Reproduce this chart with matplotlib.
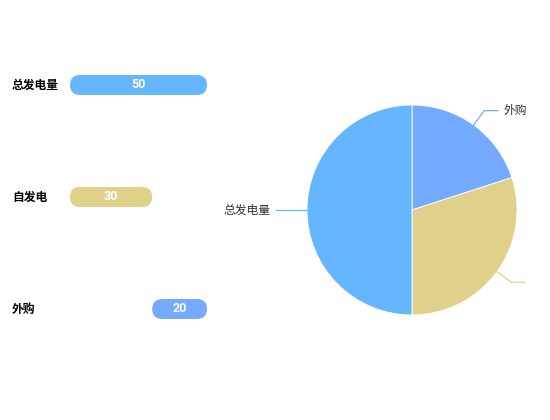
import numpy as np
import matplotlib
matplotlib.use('Agg')
import matplotlib.pyplot as plt
from matplotlib.patches import FancyBboxPatch

plt.rcParams['font.family'] = ['Noto Sans CJK SC', 'DejaVu Sans']

# data
categories = ['总发电量', '自发电', '外购']
values = [50, 30, 20]
starts = [0, 0, values[1]]          # 外购 stacks after 自发电
bar_colors = ['#66b6ff', '#dfd08a', '#74aaff']

pie_labels = ['外购', '自发电', '总发电量']
pie_values = [20, 30, 50]
pie_colors = ['#74aaff', '#dfd08a', '#66b6ff']
# the 自发电 label falls outside the canvas in the original, only its guide line shows
pie_label_shown = [True, False, True]

W, H = 550, 420
fig = plt.figure(figsize=(W / 100, H / 100), dpi=100)

# ---- left: rounded horizontal bars ----
ax = fig.add_axes([70 / W, 1 - 365 / H, 137 / W, 336 / H])
ax.set_xlim(0, 50)
ax.set_ylim(2.5, -0.5)
ax.axis('off')

x_per_px = 50 / 137
y_per_px = 3 / 336
bar_h = 20 * y_per_px
aspect = y_per_px / x_per_px
for i, (cat, v, s, c) in enumerate(zip(categories, values, starts, bar_colors)):
    box = FancyBboxPatch((s, i - bar_h / 2), v, bar_h,
                         boxstyle='round,pad=0,rounding_size=%f' % (10 * x_per_px),
                         mutation_aspect=aspect, fc=c, ec='none')
    ax.add_patch(box)
    ax.text(s + v / 2, i, str(v), ha='center', va='center', color='white',
            fontsize=9, fontweight='bold', family=['Roboto', 'DejaVu Sans'])
    ax.text(-58 * x_per_px, i, cat, ha='left', va='center', color='black',
            fontsize=8.5, fontweight='bold', clip_on=False)

# ---- right: pie ----
R = 105
half = 140
ax2 = fig.add_axes([(412 - half) / W, (210 - half) / H, 2 * half / W, 2 * half / H])
wedges, _ = ax2.pie(pie_values, colors=pie_colors, startangle=90, counterclock=False,
                    radius=1, wedgeprops=dict(edgecolor='white', linewidth=0.6))
ax2.set_xlim(-half / R, half / R)
ax2.set_ylim(-half / R, half / R)
ax2.set_aspect('equal')
ax2.axis('off')

for w, lab, c, shown in zip(wedges, pie_labels, pie_colors, pie_label_shown):
    ang = np.deg2rad((w.theta1 + w.theta2) / 2)
    x0, y0 = np.cos(ang), np.sin(ang)
    x1, y1 = 1.17 * x0, 1.17 * y0
    sgn = 1 if x0 >= -1e-9 else -1
    x2 = x1 + sgn * 0.13
    ax2.plot([x0, x1, x2], [y0, y1, y1], color=c, lw=0.9, clip_on=False)
    if shown:
        ax2.text(x2 + sgn * 0.05, y1, lab, ha='left' if sgn > 0 else 'right', va='center',
                 fontsize=8.5, color='#333333', clip_on=False)

fig.savefig('out.png', dpi=100)
